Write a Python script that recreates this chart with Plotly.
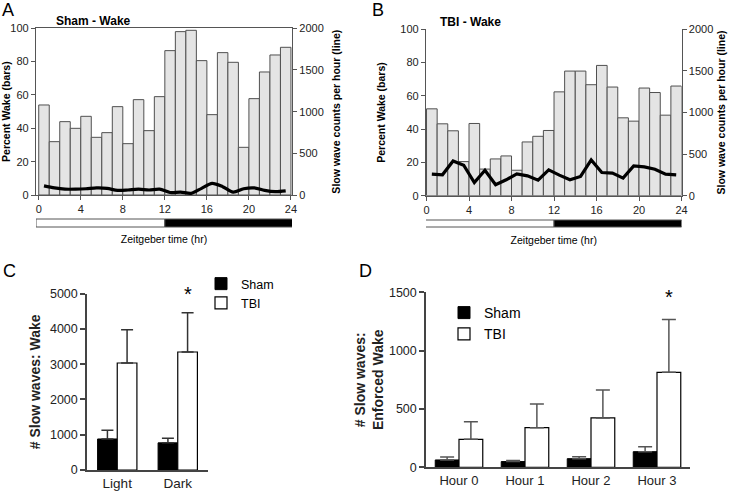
import plotly.graph_objects as go

W, H = 729, 491
FONT = "Liberation Sans, Arial, sans-serif"

# ---------------- data ----------------
HOURS = list(range(24))
SHAM_WAKE_PCT = [54, 32, 44, 40, 47.2, 34.6, 37.4, 53, 30.8, 57.2, 38.6, 59,
                 86.6, 98, 98.8, 80.6, 48.2, 85.4, 79.6, 28.6, 57.8, 73.8, 84, 88.6]
SHAM_SW_COUNTS = [110, 85, 70, 70, 75, 85, 80, 55, 60, 70, 60, 70,
                  30, 35, 20, 80, 140, 100, 35, 75, 85, 55, 40, 50]
TBI_WAKE_PCT = [52.2, 43.2, 39, 20.5, 43.4, 16, 22.1, 23.9, 15.3, 32.3, 35.7, 39.2,
                62.4, 74.9, 74.9, 66.7, 78.3, 65.3, 46.8, 44.8, 64.7, 62, 48.4, 65.9]
TBI_SW_COUNTS = [259, 251, 418, 366, 159, 306, 131, 191, 263, 239, 187, 310,
                 247, 191, 231, 430, 279, 271, 211, 358, 346, 318, 259, 251]
LIGHT_DARK = [(0, 12, "white"), (12, 24, "black")]

C_CATS = ["Light", "Dark"]
C_SHAM = [880, 770]
C_SHAM_ERR_TOP = [1125, 898]
C_TBI = [3035, 3346]
C_TBI_ERR_TOP = [3980, 4461]
C_SIG = [False, True]

D_CATS = ["Hour 0", "Hour 1", "Hour 2", "Hour 3"]
D_SHAM = [63, 49, 74, 134]
D_SHAM_ERR_TOP = [89, 58, 91, 177]
D_TBI = [240, 340, 423, 814]
D_TBI_ERR_TOP = [391, 543, 663, 1266]
D_SIG = [False, False, False, True]


def px_x(p):
    return p / W


def px_y(p):
    return 1 - p / H


fig = go.Figure()

BAR_FILL = "#e4e4e4"
BAR_LINE = "#505050"

# ---------------- Panel A ----------------
fig.add_trace(go.Bar(x=HOURS, y=SHAM_WAKE_PCT, offset=0, width=1,
                     marker=dict(color=BAR_FILL, line=dict(color=BAR_LINE, width=1)),
                     xaxis="x", yaxis="y", showlegend=False))
fig.add_trace(go.Scatter(x=[h + 0.5 for h in HOURS], y=SHAM_SW_COUNTS, mode="lines",
                         line=dict(color="black", width=3.2, shape="spline", smoothing=0.8),
                         xaxis="x", yaxis="y2", showlegend=False))
# ---------------- Panel B ----------------
fig.add_trace(go.Bar(x=HOURS, y=TBI_WAKE_PCT, offset=0, width=1,
                     marker=dict(color=BAR_FILL, line=dict(color=BAR_LINE, width=1)),
                     xaxis="x2", yaxis="y3", showlegend=False))
fig.add_trace(go.Scatter(x=[h + 0.5 for h in HOURS], y=TBI_SW_COUNTS, mode="lines",
                         line=dict(color="black", width=3.2),
                         xaxis="x2", yaxis="y4", showlegend=False))

# ---------------- Panel C ----------------
CW = 0.325
fig.add_trace(go.Bar(x=C_CATS, y=C_SHAM, name="Sham", offset=-CW, width=CW,
                     marker=dict(color="black", line=dict(color="black", width=1)),
                     error_y=dict(type="data", symmetric=False,
                                  array=[t - v for t, v in zip(C_SHAM_ERR_TOP, C_SHAM)],
                                  arrayminus=[0] * len(C_SHAM), color="#333", thickness=1.5, width=6),
                     xaxis="x3", yaxis="y5", legend="legend"))
fig.add_trace(go.Bar(x=C_CATS, y=C_TBI, name="TBI", offset=0, width=CW,
                     marker=dict(color="white", line=dict(color="black", width=1.2)),
                     error_y=dict(type="data", symmetric=False,
                                  array=[t - v for t, v in zip(C_TBI_ERR_TOP, C_TBI)],
                                  arrayminus=[0] * len(C_TBI), color="#333", thickness=1.5, width=6),
                     xaxis="x3", yaxis="y5", legend="legend"))

# ---------------- Panel D ----------------
DW = 0.36
fig.add_trace(go.Bar(x=D_CATS, y=D_SHAM, name="Sham", offset=-DW, width=DW,
                     marker=dict(color="black", line=dict(color="black", width=1)),
                     error_y=dict(type="data", symmetric=False,
                                  array=[t - v for t, v in zip(D_SHAM_ERR_TOP, D_SHAM)],
                                  arrayminus=[0] * len(D_SHAM), color="#555", thickness=1.5, width=7),
                     xaxis="x4", yaxis="y6", legend="legend2"))
fig.add_trace(go.Bar(x=D_CATS, y=D_TBI, name="TBI", offset=0, width=DW,
                     marker=dict(color="white", line=dict(color="black", width=1.2)),
                     error_y=dict(type="data", symmetric=False,
                                  array=[t - v for t, v in zip(D_TBI_ERR_TOP, D_TBI)],
                                  arrayminus=[0] * len(D_TBI), color="#555", thickness=1.5, width=7),
                     xaxis="x4", yaxis="y6", legend="legend2"))

AX_A = dict(showgrid=False, zeroline=False, showline=True, linecolor="#555", linewidth=1.2,
            ticks="outside", ticklen=4, tickcolor="#555", tickwidth=1, automargin=False,
            color="#222", tickfont=dict(family=FONT, size=11, color="#222"))
AX_C = dict(showgrid=False, zeroline=False, showline=True, linecolor="#444", linewidth=1.5,
            ticks="outside", ticklen=5, tickcolor="#444", tickwidth=1.5, automargin=False,
            color="#222", tickfont=dict(family=FONT, size=12.5, color="#222"))

ttl_small = dict(family=FONT, size=10.5, color="black")

fig.update_layout(
    template="none",
    width=W, height=H,
    margin=dict(l=0, r=0, t=0, b=0, autoexpand=False),
    paper_bgcolor="white", plot_bgcolor="white",
    barmode="overlay",
    font=dict(family=FONT, color="black"),
    # Panel A
    xaxis=dict(AX_A, domain=[px_x(36), px_x(292)], range=[-0.26, 24.1], anchor="y",
               tickvals=[0, 4, 8, 12, 16, 20, 24], mirror=True,
               title=dict(text="Zeitgeber time (hr)", font=ttl_small, standoff=21)),
    yaxis=dict(AX_A, domain=[px_y(195), px_y(28.3)], range=[0, 100], anchor="x",
               tickvals=[0, 20, 40, 60, 80, 100],
               title=dict(text="<b>Percent Wake (bars)</b>", font=ttl_small, standoff=1)),
    yaxis2=dict(AX_A, overlaying="y", side="right", anchor="x", range=[0, 2000],
                tickvals=[0, 500, 1000, 1500, 2000],
                title=dict(text="<b>Slow wave counts per hour (line)</b>", font=ttl_small, standoff=9)),
    # Panel B
    xaxis2=dict(AX_A, domain=[px_x(426), px_x(681.5)], range=[-0.05, 24], anchor="y3",
                tickvals=[0, 4, 8, 12, 16, 20, 24],
                title=dict(text="Zeitgeber time (hr)", font=ttl_small, standoff=21)),
    yaxis3=dict(AX_A, domain=[px_y(195.7), px_y(29.3)], range=[0, 100], anchor="x2",
                tickvals=[0, 20, 40, 60, 80, 100],
                title=dict(text="<b>Percent Wake (bars)</b>", font=ttl_small, standoff=12)),
    yaxis4=dict(AX_A, overlaying="y3", side="right", anchor="x2", range=[0, 2000],
                tickvals=[0, 500, 1000, 1500, 2000],
                title=dict(text="<b>Slow wave counts per hour (line)</b>", font=ttl_small, standoff=5)),
    # Panel C
    xaxis3=dict(AX_C, domain=[px_x(87), px_x(208)], range=[-0.5, 1.5], anchor="y5",
                ticks="", tickfont=dict(family=FONT, size=13.5, color="#222")),
    yaxis5=dict(AX_C, domain=[px_y(470), px_y(293.7)], range=[0, 5000], anchor="x3",
                tickvals=[0, 1000, 2000, 3000, 4000, 5000],
                title=dict(text="<b># Slow waves: Wake</b>", font=dict(family=FONT, size=14), standoff=6)),
    # Panel D
    xaxis4=dict(AX_C, domain=[px_x(426), px_x(690)], range=[-0.5, 3.5], anchor="y6",
                ticks="", tickfont=dict(family=FONT, size=13, color="#222")),
    yaxis6=dict(AX_C, domain=[px_y(467.3), px_y(292.3)], range=[0, 1500], anchor="x4",
                tickvals=[0, 500, 1000, 1500],
                title=dict(text="<b># Slow waves:<br>Enforced Wake</b>", font=dict(family=FONT, size=14), standoff=2)),
    legend=dict(x=px_x(201), y=px_y(269), xanchor="left", yanchor="top",
                font=dict(family=FONT, size=12.5), bgcolor="rgba(0,0,0,0)", tracegroupgap=0),
    legend2=dict(x=px_x(444), y=px_y(297), xanchor="left", yanchor="top",
                 font=dict(family=FONT, size=14), bgcolor="rgba(0,0,0,0)", tracegroupgap=0),
)

# Light / dark bars under panels A and B
for xref, y0, y1, pad_l, pad_r in [("x", 227, 219, 0.26, 0.55), ("x2", 227, 220, 0.38, 0.2)]:
    for (s, e, col) in LIGHT_DARK:
        x0 = s - pad_l if s == 0 else s
        x1 = e + pad_r if e == 24 else e
        fig.add_shape(type="rect", xref=xref, yref="paper", x0=x0, x1=x1,
                      y0=px_y(y0), y1=px_y(y1), fillcolor=col,
                      line=dict(color="#555", width=1))

# Panel titles & letters
annots = [
    dict(text="<b>Sham - Wake</b>", x=px_x(93), y=px_y(21), size=12),
    dict(text="<b>TBI - Wake</b>", x=px_x(470), y=px_y(22), size=12),
    dict(text="A", x=px_x(8), y=px_y(10), size=18),
    dict(text="B", x=px_x(378), y=px_y(10), size=18),
    dict(text="C", x=px_x(9), y=px_y(271), size=18),
    dict(text="D", x=px_x(365), y=px_y(271), size=18),
]
for a in annots:
    fig.add_annotation(text=a["text"], x=a["x"], y=a["y"], xref="paper", yref="paper",
                       showarrow=False, xanchor="center", yanchor="middle",
                       font=dict(family=FONT, size=a["size"], color="black"))

# Significance asterisks
for i, sig in enumerate(C_SIG):
    if sig:
        fig.add_annotation(text="*", x=i + CW / 2, y=C_TBI_ERR_TOP[i], xref="x3", yref="y5",
                           showarrow=False, yanchor="bottom", yshift=6,
                           font=dict(family=FONT, size=20, color="black"))
for i, sig in enumerate(D_SIG):
    if sig:
        fig.add_annotation(text="*", x=i + DW / 2, y=D_TBI_ERR_TOP[i], xref="x4", yref="y6",
                           showarrow=False, yanchor="bottom", yshift=10,
                           font=dict(family=FONT, size=20, color="black"))

fig.write_html("out.html", config={"displayModeBar": False},
               post_script="document.body.style.margin='0px';document.body.style.overflow='hidden';")
